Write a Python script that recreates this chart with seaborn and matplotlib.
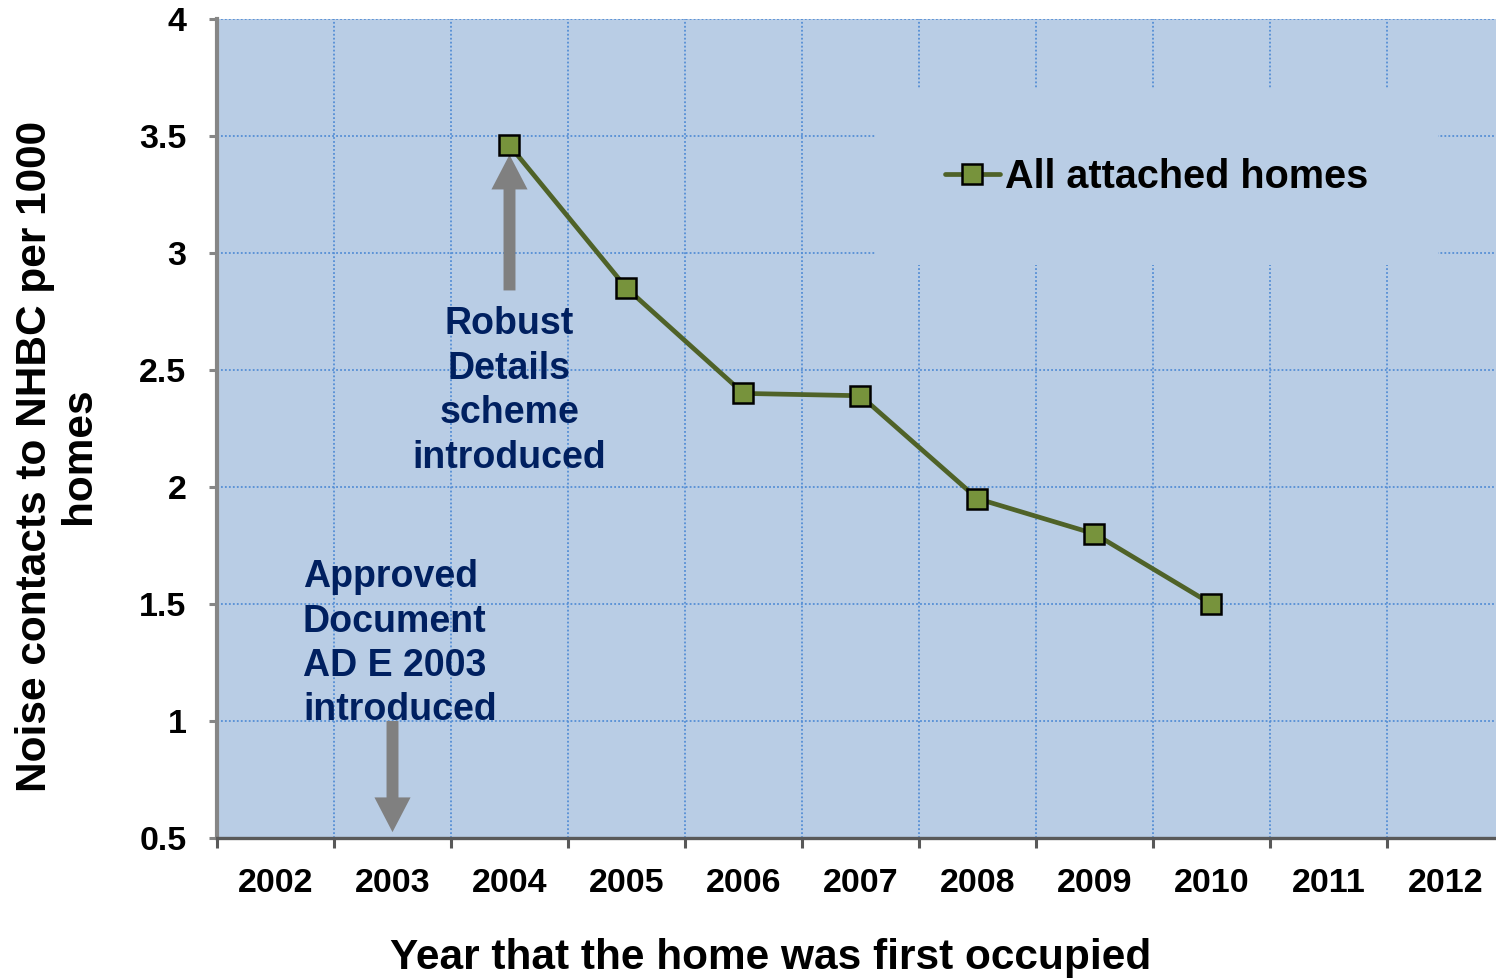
import numpy as np
import pandas as pd
import matplotlib
matplotlib.use("Agg")
import matplotlib.pyplot as plt
from matplotlib.ticker import FixedLocator, NullFormatter
import seaborn as sns

# ── Data ─────────────────────────────────────────────
YEARS_ALL = [2002, 2003, 2004, 2005, 2006, 2007, 2008, 2009, 2010, 2011, 2012]
YEARS = [2004, 2005, 2006, 2007, 2008, 2009, 2010]
CONTACTS = [3.46, 2.85, 2.40, 2.39, 1.95, 1.80, 1.50]
Y_TICKS = [0.5, 1, 1.5, 2, 2.5, 3, 3.5, 4]
SERIES = "All attached homes"

# annotation anchors (data units)
RD_TEXT = "Robust\nDetails\nscheme\nintroduced"
RD_XY = (2004, 2.41)
RD_ARROW = ((2004, 2.84), (2004, 3.42))
ADE_TEXT = "Approved\nDocument\nAD E 2003\nintroduced"
ADE_XY = (2002.235, 1.33)
ADE_ARROW = ((2003, 1.0), (2003, 0.525))

# ── Style ────────────────────────────────────────────
sns.set_theme(style="ticks")
plt.rcParams["font.family"] = ["Liberation Sans", "DejaVu Sans"]
plt.rcParams["font.weight"] = "bold"
plt.rcParams["text.color"] = "black"
plt.rcParams["xtick.labelcolor"] = "black"
plt.rcParams["ytick.labelcolor"] = "black"

BG = "#B9CDE5"
GRID = "#558ED5"
LINE = "#4F6228"
MARK = "#77933C"
NAVY = "#002060"
ARROW = "#808080"

df = pd.DataFrame({"year": YEARS, "contacts": CONTACTS})

fig = plt.figure(figsize=(14.96, 9.8), dpi=100)
ax = fig.add_axes([217 / 1496, 142 / 980, 1287 / 1496, 819 / 980])
ax.set_facecolor(BG)

sns.lineplot(data=df, x="year", y="contacts", ax=ax, color=LINE, linewidth=3.4,
             marker="s", markersize=14.5, markerfacecolor=MARK,
             markeredgecolor="black", markeredgewidth=1.8, label=SERIES, zorder=4)

ax.set_xlim(YEARS_ALL[0] - 0.5, YEARS_ALL[-1] + 0.5)
ax.set_ylim(Y_TICKS[0], Y_TICKS[-1])

# categories labelled at centre, tick marks / grid between categories
ax.xaxis.set_major_locator(FixedLocator(YEARS_ALL))
ax.set_xticklabels([str(y) for y in YEARS_ALL])
ax.xaxis.set_minor_locator(FixedLocator(np.arange(YEARS_ALL[0] - 0.5, YEARS_ALL[-1] + 1, 1)))
ax.xaxis.set_minor_formatter(NullFormatter())
ax.tick_params(axis="x", which="major", length=0, pad=21.5, labelsize=24.5, labelcolor="black")
ax.tick_params(axis="x", which="minor", length=7, width=2.2, color="#595959", direction="out")

ax.set_yticks(Y_TICKS)
ax.set_yticklabels([f"{v:g}" for v in Y_TICKS])
ax.tick_params(axis="y", length=6, width=2.2, color="#868686", pad=16, labelsize=24.5,
               labelcolor="black")

ax.grid(False)
ax.xaxis.grid(True, which="minor", color=GRID, linestyle=(0, (1, 1.2)), linewidth=1.3)
ax.yaxis.grid(True, which="major", color=GRID, linestyle=(0, (1, 1.2)), linewidth=1.3)
ax.set_axisbelow(True)

for s in ["top", "right"]:
    ax.spines[s].set_visible(False)
ax.spines["left"].set_color("#868686")
ax.spines["left"].set_linewidth(3)
ax.spines["bottom"].set_color("#595959")
ax.spines["bottom"].set_linewidth(2.4)

ax.set_xlabel("")
ax.set_ylabel("")
fig.text(771 / 1496, 1 - 958 / 980, "Year that the home was first occupied",
         ha="center", va="center", fontsize=30.5, fontweight="bold", color="black")
fig.text(57 / 1496, 1 - 456 / 980, "Noise contacts to NHBC per 1000\nhomes",
         ha="center", va="center", rotation=90, multialignment="center",
         fontsize=30.5, fontweight="bold", linespacing=1.12, color="black")

# annotations
ax.text(*RD_XY, RD_TEXT, ha="center", va="center", color=NAVY, fontsize=27,
        fontweight="bold", linespacing=1.3, zorder=3)
ax.text(*ADE_XY, ADE_TEXT, ha="left", va="center", color=NAVY, fontsize=27,
        fontweight="bold", linespacing=1.3, zorder=3)
arrow_kw = dict(facecolor=ARROW, edgecolor="none", width=8.6, headwidth=26,
                headlength=25, shrink=0)
for tail, tip in (RD_ARROW, ADE_ARROW):
    ax.annotate("", xy=tip, xytext=tail, arrowprops=arrow_kw, zorder=3)

leg = ax.legend(loc="center", bbox_to_anchor=(0.73, 0.807), fontsize=28.5,
                frameon=True, facecolor=BG, edgecolor="none", framealpha=1,
                borderpad=1.75, handlelength=1.4, handletextpad=0.13,
                labelcolor="black")
leg.get_frame().set_linewidth(0)

fig.savefig("out.png", dpi=100)
